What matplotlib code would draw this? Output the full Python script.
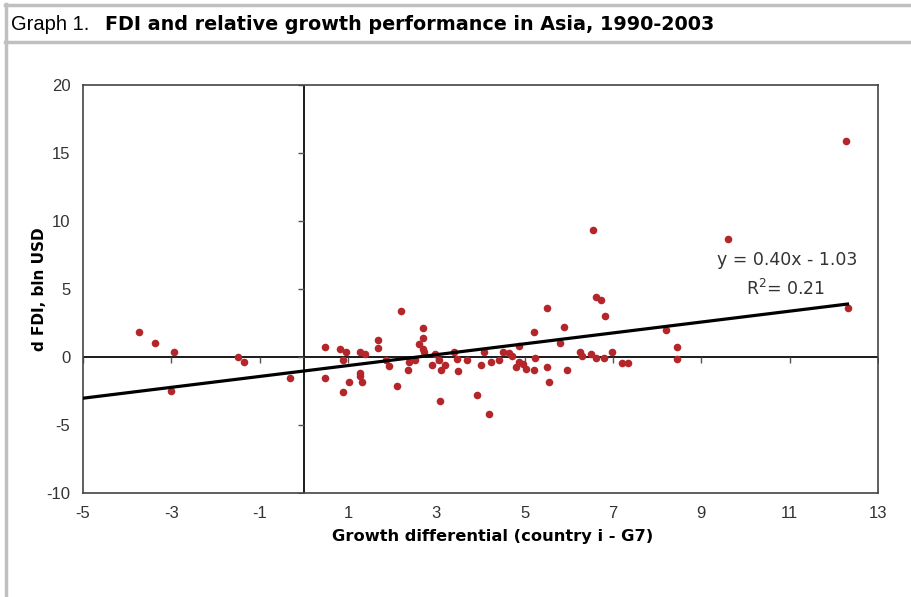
import numpy as np
import matplotlib
matplotlib.use("Agg")
import matplotlib.pyplot as plt
from matplotlib.lines import Line2D

plt.rcParams["axes.unicode_minus"] = False

# growth differential (country i - G7) and change in FDI, bln USD
growth = [-3.73, -3.36, -2.93, -3.00, -1.49, -1.36, -0.31, 0.48, 0.48, 0.81,
          0.95, 0.88, 1.03, 0.88, 1.28, 1.39, 1.28, 1.28, 1.32, 1.67,
          1.67, 1.86, 1.93, 2.11, 2.21, 2.39, 2.51, 2.36, 2.69, 2.69,
          2.61, 2.69, 2.73, 2.90, 2.98, 3.05, 3.11, 3.20, 3.08, 3.40,
          3.47, 3.48, 3.70, 3.91, 4.02, 4.09, 4.23, 4.20, 4.41, 4.51,
          4.65, 4.71, 4.88, 4.80, 4.88, 4.97, 5.03, 5.20, 5.24, 5.20,
          5.50, 5.50, 5.54, 5.79, 5.89, 5.96, 6.25, 6.29, 6.50, 6.55,
          6.61, 6.73, 6.83, 6.61, 6.80, 6.98, 7.21, 7.33, 8.19, 8.45,
          8.45, 9.60, 12.27, 12.31]
dfdi = [1.84, 1.03, 0.37, -2.48, 0.02, -0.37, -1.52, 0.71, -1.52, 0.59,
        0.34, -0.25, -1.86, -2.55, 0.34, 0.22, -1.15, -1.40, -1.86, 1.27,
        0.69, -0.22, -0.69, -2.11, 3.38, -0.39, -0.22, -0.93, 2.11, 1.40,
        0.93, 0.59, 0.34, -0.56, 0.22, -0.25, -0.93, -0.56, -3.26, 0.34,
        -0.12, -1.05, -0.22, -2.79, -0.56, 0.34, -0.37, -4.20, -0.22, 0.39,
        0.32, 0.07, 0.81, -0.71, -0.34, -0.54, -0.91, -0.96, -0.10, 1.86,
        3.63, -0.71, -1.86, 1.03, 2.20, -0.96, 0.39, 0.10, 0.24, 9.34,
        4.41, 4.19, 3.04, -0.10, -0.10, 0.34, -0.47, -0.47, 1.99, 0.71,
        -0.12, 8.65, 15.88, 3.63]

# trend line as printed on the chart
slope = 0.40
intercept = -1.03
r2 = 0.21

xticks = [-5, -3, -1, 1, 3, 5, 7, 9, 11, 13]
yticks = [-10, -5, 0, 5, 10, 15, 20]

fig = plt.figure(figsize=(9.12, 5.97), dpi=100)

# grey frame round the figure, like the original report box
grey = "#c0c0c0"
fig.add_artist(Line2D([0.005, 1.0], [0.992, 0.992], color=grey, lw=2.5))
fig.add_artist(Line2D([0.005, 1.0], [0.930, 0.930], color=grey, lw=2.5))
fig.add_artist(Line2D([0.0066, 0.0066], [0.0, 0.994], color=grey, lw=2.5))

# title: plain prefix then bold text
fig.text(11 / 912, 1 - 24 / 597, "Graph 1.", fontsize=14.5,
         family=["Liberation Sans Narrow", "Liberation Sans"],
         va="center", ha="left")
fig.text(105 / 912, 1 - 24 / 597,
         "FDI and relative growth performance in Asia, 1990-2003",
         fontsize=13.8, fontweight="bold", family="DejaVu Sans",
         va="center", ha="left")

ax = fig.add_axes([83 / 912, 1 - 493 / 597, (878 - 83) / 912, (493 - 85) / 597])

ax.scatter(growth, dfdi, s=30, color="#b5262a", zorder=3, linewidths=0)

xs = np.array([-5, max(growth)])
ax.plot(xs, slope * xs + intercept, color="black", lw=2.3, zorder=4)

ax.axhline(0, color="#1a1a1a", lw=1.4, zorder=2)
ax.axvline(0, color="#1a1a1a", lw=1.4, zorder=2)
# small tick marks on the zero lines
ax.plot(xticks, [0] * len(xticks), ls="none", marker=3, ms=4,
        color="#555555", mew=1, zorder=2)
ax.plot([0] * len(yticks), yticks, ls="none", marker=0, ms=4,
        color="#555555", mew=1, zorder=2)

ax.set_xlim(-5, 13)
ax.set_ylim(-10, 20)
ax.set_xticks(xticks)
ax.set_yticks(yticks)
ax.tick_params(length=0, labelsize=12, labelcolor="#333333", pad=9)
for lab in ax.get_xticklabels() + ax.get_yticklabels():
    lab.set_family("Liberation Sans")
for s in ax.spines.values():
    s.set_color("#444444")
    s.set_linewidth(1.2)

ax.set_xlabel("Growth differential (country i - G7)", fontsize=11.7,
              fontweight="bold", family="DejaVu Sans", labelpad=6)
ax.xaxis.label.set_x(0.515)
ax.set_ylabel("d FDI, bln USD", fontsize=11, fontweight="bold",
              family="DejaVu Sans", labelpad=0)

ax.text(10.95, 7.1, "y = %.2fx - %.2f" % (slope, -intercept),
        fontsize=12.5, color="#333333", ha="center", va="center",
        family="DejaVu Sans")
ax.text(10.9, 5.0, "R$^2$= %.2f" % r2, fontsize=12.5, color="#333333",
        ha="center", va="center", family="DejaVu Sans")

fig.savefig("out.png", dpi=100)
